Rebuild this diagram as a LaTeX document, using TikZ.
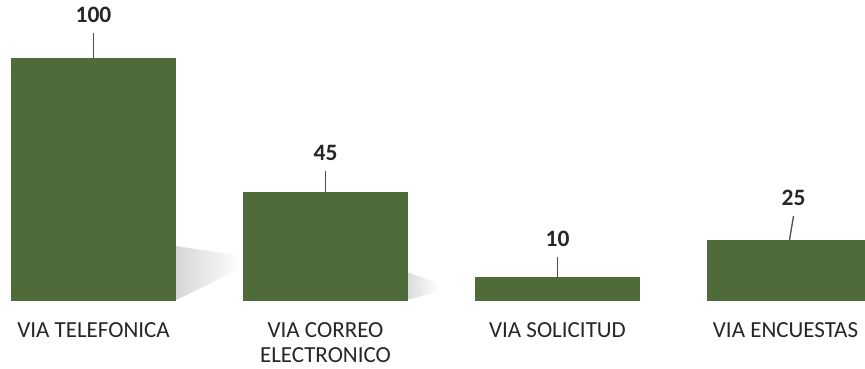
\documentclass[tikz,border=0pt]{standalone}
\usepackage{fontspec}
\setmainfont{Carlito}
\usetikzlibrary{positioning}
\definecolor{bargreen}{RGB}{80,107,58}
\definecolor{leadgray}{RGB}{80,80,80}
\begin{document}
\begin{tikzpicture}[x=1pt, y=-1pt,
     bar/.style = {fill=bargreen, minimum width=165pt, inner sep=0pt,
         outer sep=0pt, anchor=south west},
     value/.style = {font=\fontsize{23.5}{24}\selectfont\bfseries,
         text=black!85, inner sep=10pt, outer sep=0pt},
     caption/.style = {font=\fontsize{23}{24.5}\selectfont, text=black!85,
         align=center, inner sep=0pt, outer sep=0pt},
     lead/.style = {draw=leadgray, line width=1.3pt}]
        \useasboundingbox (0,0) rectangle (865,369);
        \clip (0,0) rectangle (865,369);
        % shadows behind the bars
        \shade [left color=black!16, right color=white]
            (176,246) -- (176,300) -- (242,268) -- (242,256) -- cycle;
        \shade [left color=black!14, right color=white]
            (407,272) -- (407,300) -- (440,291) -- (440,284) -- cycle;
        % bars
        \node [bar, minimum height=243pt] (tel) at (11,301) {};
        \node [bar, minimum height=109pt] (correo) at (243,301) {};
        \node [bar, minimum height=24pt] (sol) at (475,301) {};
        \node [bar, minimum height=61pt] (enc) at (707,301) {};
        % values
        \node [value, above=25pt of tel] (vtel) {100};
        \node [value, above=21pt of correo] (vcorreo) {45};
        \node [value, above=20pt of sol] (vsol) {10};
        \node [value, above=24pt of enc, xshift=4pt] (venc) {25};
        \draw [lead] (vtel) -- (tel);
        \draw [lead] (vcorreo) -- (correo);
        \draw [lead] (vsol) -- (sol);
        \draw [lead] (venc.south) -- (enc.north);
        % captions
        \node [caption, below=22pt of tel] (ctel) {VIA TELEFONICA};
        \node [caption, below=22pt of correo] (ccorreo) {VIA CORREO\\ELECTRONICO};
        \node [caption, below=22pt of sol] (csol) {VIA SOLICITUD};
        \node [caption, below=22pt of enc, xshift=-4pt] (cenc) {VIA ENCUESTAS};
\end{tikzpicture}
\end{document}
